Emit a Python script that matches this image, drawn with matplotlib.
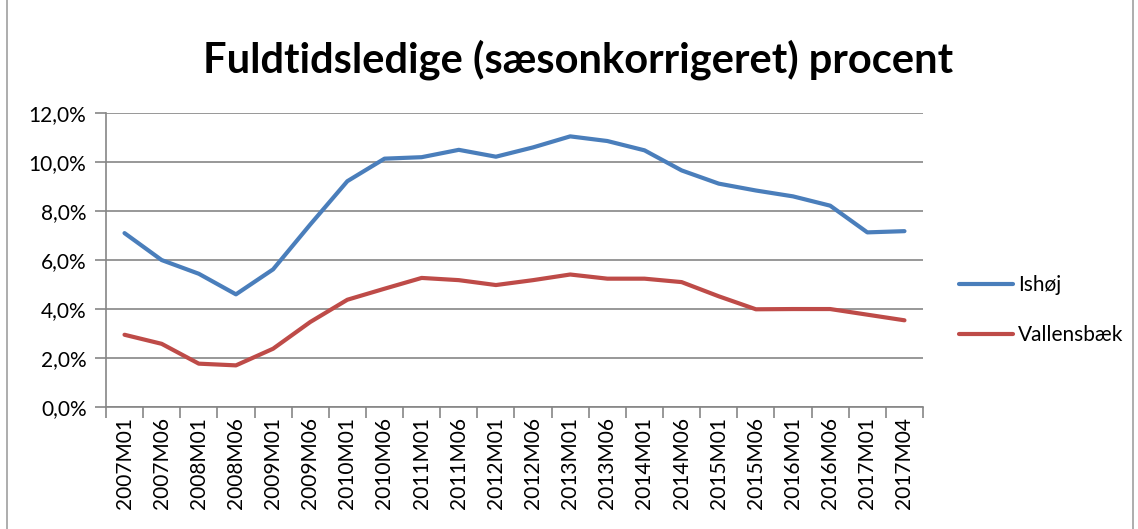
import matplotlib.pyplot as plt
import matplotlib.ticker as mticker
from matplotlib.patches import Rectangle
import numpy as np

plt.rcParams['font.family'] = ['Lato', 'DejaVu Sans']

periods = ["2007M01", "2007M06", "2008M01", "2008M06", "2009M01", "2009M06",
           "2010M01", "2010M06", "2011M01", "2011M06", "2012M01", "2012M06",
           "2013M01", "2013M06", "2014M01", "2014M06", "2015M01", "2015M06",
           "2016M01", "2016M06", "2017M01", "2017M04"]
ishoj = [7.1, 6.0, 5.44, 4.6, 5.62, 7.45, 9.22, 10.14, 10.2, 10.5, 10.22, 10.6,
         11.05, 10.86, 10.48, 9.66, 9.12, 8.84, 8.6, 8.22, 7.13, 7.18]
vallensbaek = [2.95, 2.58, 1.77, 1.7, 2.38, 3.47, 4.38, 4.83, 5.27, 5.18, 4.98, 5.18,
               5.41, 5.24, 5.24, 5.1, 4.52, 3.99, 4.0, 4.0, 3.77, 3.54]

fig = plt.figure(figsize=(11.38, 5.29), dpi=100)
ax = fig.add_axes([0.0931, 0.2306, 0.718, 0.5556])

x = np.arange(len(periods))
ax.plot(x, ishoj, color="#4A7EBB", lw=3, label="Ishøj", solid_capstyle="round")
ax.plot(x, vallensbaek, color="#BE4B48", lw=3, label="Vallensbæk", solid_capstyle="round")

ax.set_xlim(-0.5, len(periods) - 0.5)
ax.set_ylim(0, 12)
ax.set_yticks(np.arange(0, 13, 2))
ax.yaxis.set_major_formatter(mticker.FuncFormatter(lambda v, p: f"{v:.1f}%".replace(".", ",")))
ax.grid(axis="y", color="#868686", lw=1.2)
ax.set_axisbelow(True)

ax.set_xticks(np.arange(-0.5, len(periods)), labels=[])
ax.set_xticks(x, minor=True)
ax.set_xticklabels(periods, minor=True, rotation=90, fontsize=15)
ax.tick_params(axis="x", which="major", length=8, color="#868686", width=1.2)
ax.tick_params(axis="x", which="minor", length=0, pad=7)
ax.tick_params(axis="y", length=8, color="#868686", width=1.2, labelsize=15, pad=6)

for s in ["top", "right"]:
    ax.spines[s].set_visible(False)
for s in ["left", "bottom"]:
    ax.spines[s].set_color("#868686")
    ax.spines[s].set_linewidth(1.2)

fig.suptitle("Fuldtidsledige (sæsonkorrigeret) procent", x=0.508, y=0.925,
             fontsize=30, fontweight="bold")
fig.legend(loc="center left", bbox_to_anchor=(0.826, 0.414), frameon=False,
           fontsize=15, handlelength=2.6, handletextpad=0.25, labelspacing=1.45)

fig.patches.append(Rectangle((0.006, -0.01), 0.99, 1.02, transform=fig.transFigure,
                             fill=False, edgecolor="#A0A0A0", lw=1.2))

fig.savefig("out.png", dpi=100)
